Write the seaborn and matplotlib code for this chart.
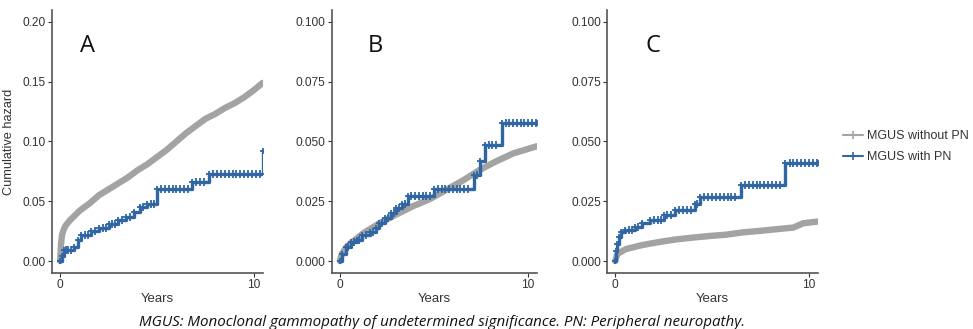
import numpy as np
import pandas as pd
import matplotlib
matplotlib.use("Agg")
import matplotlib.pyplot as plt
from matplotlib.lines import Line2D
import seaborn as sns

# ---- cumulative hazard estimates (years, hazard) ----
# Panel A
a_gray_t = [0, 0.05, 0.1, 0.2, 0.3, 0.5, 1.0, 1.5, 2.0, 2.5, 3.0, 3.5, 4.0, 4.5, 5.0,
            5.5, 6.0, 6.5, 7.0, 7.5, 8.0, 8.5, 9.0, 9.5, 10.0, 10.45]
a_gray_h = [0, 0.015, 0.022, 0.027, 0.030, 0.034, 0.042, 0.048, 0.055, 0.060, 0.065,
            0.070, 0.076, 0.081, 0.087, 0.093, 0.100, 0.107, 0.113, 0.119, 0.123,
            0.128, 0.132, 0.137, 0.143, 0.149]
a_blue_t = [0, 0.08, 0.2, 0.7, 0.9, 1.1, 1.6, 2.0, 2.5, 3.0, 3.4, 3.8, 4.1, 4.5, 5.0,
            6.8, 7.7, 10.45]
a_blue_h = [0, 0.004, 0.009, 0.012, 0.018, 0.022, 0.025, 0.028, 0.031, 0.034, 0.037,
            0.041, 0.045, 0.048, 0.060, 0.066, 0.073, 0.092]
a_cens = [0.3, 0.4, 0.55, 1.3, 1.45, 1.8, 2.2, 2.35, 2.7, 2.85, 3.2, 3.6, 4.3, 4.7,
          4.85, 5.2, 5.4, 5.6, 5.8, 6.0, 6.2, 6.4, 6.6, 7.0, 7.2, 7.4, 7.9, 8.1, 8.3,
          8.5, 8.7, 8.9, 9.1, 9.3, 9.5, 9.7, 9.9, 10.1, 10.3]

# Panel B
b_gray_t = [0, 0.1, 0.39, 1.27, 2.15, 3.0, 3.9, 4.8, 5.7, 6.6, 7.4, 8.3, 9.2, 10.45]
b_gray_h = [0, 0.003, 0.0063, 0.0118, 0.016, 0.0195, 0.023, 0.026, 0.030, 0.034,
            0.038, 0.0417, 0.045, 0.048]
b_blue_t = [0, 0.1, 0.3, 0.6, 0.9, 1.2, 1.6, 1.9, 2.1, 2.4, 2.7, 3.0, 3.3, 3.6, 5.0,
            7.1, 7.45, 7.7, 8.6, 10.45]
b_blue_h = [0, 0.003, 0.006, 0.008, 0.009, 0.011, 0.012, 0.014, 0.016, 0.018, 0.020,
            0.022, 0.024, 0.027, 0.030, 0.036, 0.042, 0.0486, 0.0576, 0.0576]
b_cens = [0.45, 0.75, 1.0, 1.4, 1.75, 2.25, 2.55, 2.85, 3.15, 3.45, 3.8, 4.0, 4.2,
          4.4, 4.6, 4.8, 5.2, 5.4, 5.6, 5.8, 6.0, 6.2, 6.4, 6.6, 6.8, 7.3, 7.9, 8.1,
          8.3, 8.8, 9.0, 9.2, 9.4, 9.6, 9.8, 10.0, 10.2, 10.4]

# Panel C
c_gray_t = [0, 0.12, 0.55, 1.4, 2.3, 3.1, 4.0, 4.9, 5.7, 6.6, 7.45, 8.3, 9.2, 9.7, 10.45]
c_gray_h = [0, 0.003, 0.005, 0.0067, 0.008, 0.009, 0.0098, 0.0105, 0.011, 0.012,
            0.0126, 0.0133, 0.014, 0.0158, 0.0165]
c_blue_t = [0, 0.05, 0.12, 0.2, 0.3, 0.5, 1.0, 1.4, 1.8, 2.5, 3.1, 4.1, 4.4, 6.5, 8.75,
            10.45]
c_blue_h = [0, 0.004, 0.007, 0.010, 0.012, 0.013, 0.0144, 0.0158, 0.0172, 0.0193,
            0.0214, 0.0239, 0.0268, 0.0316, 0.041, 0.041]
c_cens = [0.7, 0.85, 1.2, 2.0, 2.2, 2.35, 2.7, 2.9, 3.3, 3.5, 3.7, 3.9, 4.25, 4.6,
          4.8, 5.0, 5.2, 5.4, 5.6, 5.8, 6.0, 6.2, 6.7, 6.9, 7.1, 7.3, 7.5, 7.7, 7.9,
          8.1, 8.3, 8.5, 9.0, 9.2, 9.4, 9.6, 9.8, 10.0, 10.2, 10.4]

group_names = ["MGUS without PN", "MGUS with PN"]
panel_labels = ["A", "B", "C"]
y_ticks = [[0.00, 0.05, 0.10, 0.15, 0.20],
           [0.000, 0.025, 0.050, 0.075, 0.100],
           [0.000, 0.025, 0.050, 0.075, 0.100]]
y_tick_text = [["0.00", "0.05", "0.10", "0.15", "0.20"],
               ["0.000", "0.025", "0.050", "0.075", "0.100"],
               ["0.000", "0.025", "0.050", "0.075", "0.100"]]
y_limits = [(-0.01, 0.21), (-0.005, 0.105), (-0.005, 0.105)]

GRAY = "#a3a3a3"
BLUE = "#2f66a3"

sns.set_theme(style="white")
plt.rcParams["font.family"] = ["Liberation Sans", "DejaVu Sans"]

W, H = 973, 329
fig = plt.figure(figsize=(W / 100, H / 100), dpi=100)

# axes boxes in pixels: left, right, top, bottom
boxes = [(52, 263, 10, 273), (332, 537, 10, 273), (607, 818, 10, 273)]
letter_x = [0.17, 0.21, 0.218]
panels = [
    (a_gray_t, a_gray_h, a_blue_t, a_blue_h, a_cens),
    (b_gray_t, b_gray_h, b_blue_t, b_blue_h, b_cens),
    (c_gray_t, c_gray_h, c_blue_t, c_blue_h, c_cens),
]

for i, ((l, r, t, b), (gt, gh, bt, bh, cens)) in enumerate(zip(boxes, panels)):
    ax = fig.add_axes([l / W, 1 - b / H, (r - l) / W, (b - t) / H])
    gray_df = pd.DataFrame({"Years": gt, "hazard": gh, "group": group_names[0]})
    blue_df = pd.DataFrame({"Years": bt, "hazard": bh, "group": group_names[1]})
    sns.lineplot(data=gray_df, x="Years", y="hazard", color=GRAY, lw=4.6,
                 estimator=None, sort=True, ax=ax, legend=False,
                 solid_capstyle="round")
    sns.lineplot(data=blue_df, x="Years", y="hazard", color=BLUE, lw=2.4,
                 estimator=None, sort=True, ax=ax, legend=False,
                 drawstyle="steps-post", marker="+", markersize=5,
                 markeredgewidth=1.3, markeredgecolor=BLUE)
    # censoring marks on the step curve
    idx = np.searchsorted(np.asarray(bt), np.asarray(cens), side="right") - 1
    cens_df = pd.DataFrame({"Years": cens, "hazard": np.asarray(bh)[idx]})
    sns.scatterplot(data=cens_df, x="Years", y="hazard", marker="+", s=26,
                    color=BLUE, linewidth=1.3, ax=ax, legend=False, zorder=3)

    ax.set_xlim(-0.42, 10.47)
    ax.set_ylim(*y_limits[i])
    ax.set_xticks([0, 10])
    ax.set_xticklabels(["0", "10"])
    ax.set_yticks(y_ticks[i])
    ax.set_yticklabels(y_tick_text[i])
    ax.tick_params(axis="both", which="both", direction="out", length=3, width=0.8,
                   colors="#333333", labelsize=8.6, pad=1.5, left=True, bottom=True)
    for side in ["top", "right"]:
        ax.spines[side].set_visible(False)
    for side in ["left", "bottom"]:
        ax.spines[side].set_color("#555555")
        ax.spines[side].set_linewidth(1.2)
    ax.set_xlabel("Years", fontsize=9.5, color="#333333", labelpad=1)
    ax.set_ylabel("Cumulative hazard" if i == 0 else "", fontsize=9.2,
                  color="#333333")
    if i == 0:
        ax.yaxis.set_label_coords((15 - l) / (r - l), 0.5)
    ax.text(letter_x[i], 0.865, panel_labels[i], transform=ax.transAxes, fontsize=17,
            family=["Open Sans", "DejaVu Sans"], color="#111111",
            ha="center", va="center")

handles = [
    Line2D([], [], color=GRAY, lw=1.5, marker="+", markersize=6, markeredgewidth=1.2),
    Line2D([], [], color=BLUE, lw=1.5, marker="+", markersize=6, markeredgewidth=1.2),
]
fig.legend(handles, group_names, loc="upper left", bbox_to_anchor=(838 / W, 1 - 125 / H),
           frameon=False, fontsize=9.0, handlelength=1.6, handletextpad=0.3,
           labelspacing=0.75, labelcolor="#333333", borderaxespad=0)

fig.text(139 / W, 1 - 322 / H,
         "MGUS: Monoclonal gammopathy of undetermined significance. PN: Peripheral neuropathy.",
         fontsize=10.9, style="italic", family=["Open Sans", "DejaVu Sans"],
         color="#111111", va="center", ha="left")

fig.savefig("out.png", dpi=100, facecolor="white")
